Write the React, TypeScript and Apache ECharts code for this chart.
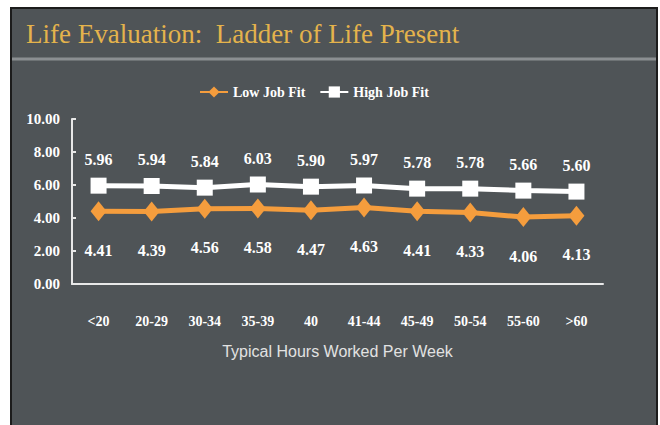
import React, { useEffect, useRef } from "react";
import * as echarts from "echarts";

const categories = ["<20", "20-29", "30-34", "35-39", "40", "41-44", "45-49", "50-54", "55-60", ">60"];
const lowJobFit = [4.41, 4.39, 4.56, 4.58, 4.47, 4.63, 4.41, 4.33, 4.06, 4.13];
const highJobFit = [5.96, 5.94, 5.84, 6.03, 5.9, 5.97, 5.78, 5.78, 5.66, 5.6];
const seriesNames = ["Low Job Fit", "High Job Fit"];
const titleText = "Life Evaluation:  Ladder of Life Present";
const xAxisName = "Typical Hours Worked Per Week";

export default function App() {
  const ref = useRef<HTMLDivElement>(null);
  useEffect(() => {
    if (!ref.current) return;
    const chart = echarts.init(ref.current, null, { renderer: "svg" });
    const serif = "Liberation Serif";
    chart.setOption({
      animation: false,
      backgroundColor: "#ffffff",
      graphic: [
        {
          type: "rect",
          z: -10,
          shape: { x: 11, y: 8, width: 646, height: 425 },
          style: { fill: "#4f5457", stroke: "#1c1c1c", lineWidth: 2 },
        },
        {
          type: "line",
          z: -9,
          shape: { x1: 12, y1: 59, x2: 656, y2: 59 },
          style: { stroke: "#8b8f92", lineWidth: 3 },
        },
      ],
      title: {
        text: titleText,
        left: 21,
        top: 15,
        textStyle: { fontFamily: serif, fontSize: 27, fontWeight: "normal", color: "#e4b34c" },
      },
      legend: {
        top: 80,
        left: 194,
        itemWidth: 28,
        itemHeight: 14,
        itemGap: 14,
        textStyle: { fontFamily: serif, fontWeight: "bold", fontSize: 14, color: "#ffffff" },
        data: seriesNames,
      },
      grid: { left: 72, right: 57, top: 119, bottom: 141, containLabel: false },
      xAxis: {
        type: "category",
        data: categories,
        boundaryGap: true,
        axisLine: { lineStyle: { color: "#e8e8e8", width: 2 } },
        axisTick: { inside: true, length: 5, lineStyle: { color: "#e8e8e8", width: 2 } },
        axisLabel: { margin: 30, fontFamily: serif, fontWeight: "bold", fontSize: 14, color: "#ffffff" },
        name: xAxisName,
        nameLocation: "middle",
        nameGap: 59,
        nameTextStyle: { fontFamily: "Liberation Sans", fontSize: 16, color: "#e2e2e2" },
      },
      yAxis: {
        type: "value",
        min: 0,
        max: 10,
        interval: 2,
        axisLine: { show: true, lineStyle: { color: "#e8e8e8", width: 2 } },
        axisTick: { show: true, inside: true, length: 4, lineStyle: { color: "#e8e8e8", width: 2 } },
        splitLine: { show: false },
        axisLabel: {
          margin: 12,
          fontFamily: serif,
          fontWeight: "bold",
          fontSize: 15,
          color: "#ffffff",
          formatter: (v: number) => v.toFixed(2),
        },
      },
      series: [
        {
          name: seriesNames[0],
          type: "line",
          data: lowJobFit,
          color: "#f59d3d",
          symbol: "diamond",
          symbolSize: [16, 20],
          lineStyle: { width: 5, color: "#f59d3d" },
          itemStyle: { color: "#f59d3d" },
          label: {
            show: true,
            position: "bottom",
            distance: 21,
            fontFamily: serif,
            fontWeight: "bold",
            fontSize: 16,
            color: "#ffffff",
            formatter: (p: any) => Number(p.value).toFixed(2),
          },
        },
        {
          name: seriesNames[1],
          type: "line",
          data: highJobFit,
          color: "#ffffff",
          symbol: "rect",
          symbolSize: 16,
          lineStyle: { width: 5, color: "#ffffff" },
          itemStyle: { color: "#ffffff" },
          label: {
            show: true,
            position: "top",
            distance: 10,
            fontFamily: serif,
            fontWeight: "bold",
            fontSize: 16,
            color: "#ffffff",
            formatter: (p: any) => Number(p.value).toFixed(2),
          },
        },
      ],
    });
    return () => chart.dispose();
  }, []);
  return (
    <div
      ref={ref}
      style={{ position: "absolute", left: 0, top: 0, width: 660, height: 425 }}
    />
  );
}
